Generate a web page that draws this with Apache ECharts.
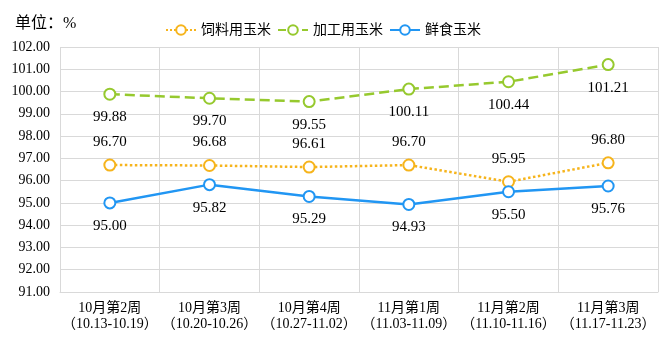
<!DOCTYPE html>
<html><head><meta charset="utf-8">
<script src="https://cdn.jsdelivr.net/npm/echarts@6/dist/echarts.min.js"></script>
<style>html,body{margin:0;padding:0;background:#fff}#c{width:670px;height:344px}</style>
</head><body><div id="c"></div>
<script>
const categories = ['10月第2周\n（10.13-10.19）','10月第3周\n（10.20-10.26）','10月第4周\n（10.27-11.02）','11月第1周\n（11.03-11.09）','11月第2周\n（11.10-11.16）','11月第3周\n（11.17-11.23）'];
const feedCorn = [96.70, 96.68, 96.61, 96.70, 95.95, 96.80];
const processCorn = [99.88, 99.70, 99.55, 100.11, 100.44, 101.21];
const freshCorn = [95.00, 95.82, 95.29, 94.93, 95.50, 95.76];
const seriesNames = ['饲料用玉米','加工用玉米','鲜食玉米'];

const FONT = '"Liberation Serif","Noto Sans CJK SC",serif';
const colors = ['#f6b41c','#96c92e','#2196f3'];
function mk(name, data, color, type, pos) {
  return {
    name, type: 'line', data,
    symbol: 'emptyCircle', symbolSize: 11,
    lineStyle: { color, width: 2.5, type },
    itemStyle: { color, borderWidth: 2.5, borderColor: color },
    label: { show: true, position: pos, distance: 9, color: '#000', fontSize: 15, fontFamily: FONT,
      formatter: p => p.value.toFixed(2) }
  };
}
const chart = echarts.init(document.getElementById('c'));
chart.setOption({
  animation: false,
  color: colors,
  title: { text: '单位：%', left: 10, top: 11, textStyle: { fontSize: 16, fontWeight: 'normal', color: '#000', fontFamily: FONT } },
  legend: { top: 18, left: 160, itemWidth: 30, itemHeight: 12, itemGap: 6,
    textStyle: { fontSize: 14, color: '#000', fontFamily: FONT }, data: seriesNames },
  grid: { left: 60, right: 12, top: 47, bottom: 52, containLabel: false },
  xAxis: { type: 'category', data: categories, boundaryGap: true,
    axisLine: { lineStyle: { color: '#d9d9d9' } }, axisTick: { show: false },
    splitLine: { show: true, lineStyle: { color: '#d9d9d9' } },
    axisLabel: { color: '#000', fontSize: 14, lineHeight: 16, margin: 8, fontFamily: FONT, interval: 0 } },
  yAxis: { type: 'value', min: 91, max: 102, interval: 1,
    axisLine: { show: false }, axisTick: { show: false },
    splitLine: { lineStyle: { color: '#d9d9d9' } },
    axisLabel: { color: '#000', fontSize: 14, margin: 10, fontFamily: FONT, formatter: v => v.toFixed(2) } },
  series: [
    mk(seriesNames[0], feedCorn, colors[0], 'dotted', 'top'),
    mk(seriesNames[1], processCorn, colors[1], 'dashed', 'bottom'),
    mk(seriesNames[2], freshCorn, colors[2], 'solid', 'bottom')
  ]
});
</script></body></html>
